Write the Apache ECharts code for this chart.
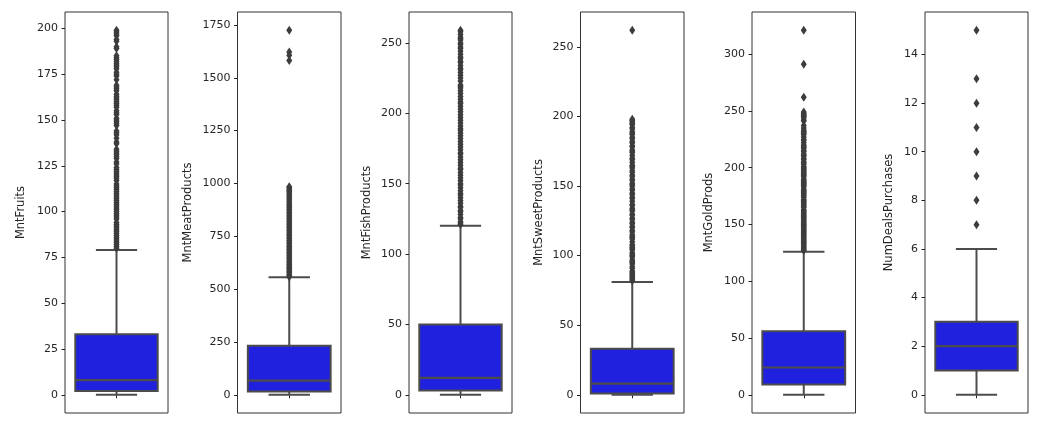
<!DOCTYPE html>
<html>
<head>
<meta charset="utf-8">
<script src="https://cdn.jsdelivr.net/npm/echarts@6/dist/echarts.min.js"></script>
<style>html,body{margin:0;padding:0;background:#fff;}#c{width:1042px;height:440px;}</style>
</head>
<body>
<div id="c"></div>
<script>
// ---- data ----
const categories = ['MntFruits','MntMeatProducts','MntFishProducts','MntSweetProducts','MntGoldProds','NumDealsPurchases'];

// box stats: [lowerWhisker, Q1, median, Q3, upperWhisker]
const fruitsBox = [0, 2, 8, 33, 79];
const meatBox = [0, 16, 67, 232, 556];
const fishBox = [0, 3, 12, 50, 120];
const sweetBox = [0, 1, 8, 33, 81];
const goldBox = [0, 9, 24, 56, 126];
const dealsBox = [0, 1, 2, 3, 6];

// outliers
const fruitsOut = [80,81,82,83,84,85,86,87,88,89,90,91,92,93,94,96,97,98,99,100,101,102,103,104,105,106,107,108,109,110,111,112,113,114,115,117,118,119,120,121,122,123,124,126,127,129,130,131,132,133,134,137,138,140,142,143,144,147,148,149,150,151,153,154,155,157,158,159,160,161,162,163,164,166,167,168,169,172,174,175,176,178,179,180,181,182,183,184,185,189,190,193,194,196,197,198,199];
const meatOut = [558,565,570,578,585,590,597,604,611,617,623,630,637,645,652,659,666,673,680,687,694,701,708,716,723,730,738,745,752,760,767,775,782,790,797,804,812,819,827,834,842,849,857,864,872,879,887,894,902,909,917,925,932,940,947,955,962,968,974,981,984,1582,1607,1622,1725];
const fishOut = [121,122,123,125,126,128,130,131,133,134,136,138,140,142,143,145,147,149,150,152,154,156,158,160,161,163,165,167,169,171,172,174,176,178,180,182,184,186,188,189,191,193,195,197,199,201,203,205,207,208,210,212,214,216,218,219,220,223,225,227,229,231,232,234,236,237,239,240,242,244,246,247,249,250,252,253,254,256,258,259];
const sweetOut = [82,83,84,85,86,87,88,89,91,92,94,95,96,97,99,100,101,102,104,105,106,107,108,110,112,113,114,115,117,118,120,121,123,124,126,127,129,130,132,133,134,136,137,139,141,142,144,145,147,148,150,151,152,154,155,157,158,160,161,163,164,165,167,169,170,172,174,175,176,178,179,181,182,184,185,187,188,189,191,192,194,195,196,197,198,262];
const goldOut = [127,128,129,130,131,132,133,134,135,136,137,138,139,140,141,142,143,144,145,146,147,148,149,150,151,152,153,154,155,156,157,158,159,160,161,162,163,165,166,167,168,169,170,171,172,174,175,176,177,178,179,180,181,183,184,185,186,187,188,189,190,192,193,194,195,196,197,198,199,200,201,203,204,205,207,208,210,211,212,214,215,217,218,219,220,222,224,225,227,229,230,231,232,233,235,237,241,242,244,245,246,247,248,249,262,291,321];
const dealsOut = [7,8,9,10,11,12,13,15];

// axis ranges and tick labels
const yMins = [-9.95, -86.25, -12.95, -13.1, -16.05, -0.75];
const yMaxs = [208.95, 1811.25, 271.95, 275.1, 337.05, 15.75];
const fruitsTicks = [0,25,50,75,100,125,150,175,200];
const meatTicks = [0,250,500,750,1000,1250,1500,1750];
const fishTicks = [0,50,100,150,200,250];
const sweetTicks = [0,50,100,150,200,250];
const goldTicks = [0,50,100,150,200,250,300];
const dealsTicks = [0,2,4,6,8,10,12,14];

const boxes = [fruitsBox, meatBox, fishBox, sweetBox, goldBox, dealsBox];
const outs = [fruitsOut, meatOut, fishOut, sweetOut, goldOut, dealsOut];
const ticks = [fruitsTicks, meatTicks, fishTicks, sweetTicks, goldTicks, dealsTicks];

// ---- layout / style ----
const lefts = [65, 237.5, 409, 580.5, 752, 925];
const widths = [103, 103.5, 103, 103.5, 103.5, 103];
const nameGaps = [38, 43, 36, 35.5, 36.5, 29.5];
const TOP = 12, HEIGHT = 401;
const BOX_FILL = '#2020df';
const LINE = '#4c4c4c';
const TXT = '#262626';
const FONT = 'DejaVu Sans';

const grid = [], xAxis = [], yAxis = [], series = [];
for (let i = 0; i < 6; i++) {
  grid.push({left: lefts[i], top: TOP, width: widths[i], height: HEIGHT, show: true,
    borderColor: '#333', borderWidth: 1, backgroundColor: 'transparent', containLabel: false});
  xAxis.push({gridIndex: i, type: 'category', data: [''], boundaryGap: true,
    axisLine: {show: false},
    axisTick: {show: true, alignWithLabel: true, length: 3.5, lineStyle: {color: '#222', width: 1}},
    axisLabel: {show: false}, splitLine: {show: false}});
  yAxis.push({gridIndex: i, type: 'value', min: yMins[i], max: yMaxs[i],
    name: categories[i], nameLocation: 'middle', nameRotate: 90, nameGap: nameGaps[i],
    nameTextStyle: {fontFamily: FONT, fontSize: 11.5, color: TXT},
    axisLine: {show: false},
    axisTick: {show: true, length: 3.5, customValues: ticks[i], lineStyle: {color: '#222', width: 1}},
    axisLabel: {show: true, customValues: ticks[i], margin: 7, fontFamily: FONT, fontSize: 11, color: TXT,
      formatter: function (v) { return String(v); }},
    splitLine: {show: false}});
  series.push({
    type: 'custom', xAxisIndex: i, yAxisIndex: i,
    data: [[0].concat(boxes[i])],
    encode: {x: 0, y: [1,2,3,4,5]},
    renderItem: function (params, api) {
      const x = api.value(0);
      const lo = api.coord([x, api.value(1)]);
      const q1 = api.coord([x, api.value(2)]);
      const md = api.coord([x, api.value(3)]);
      const q3 = api.coord([x, api.value(4)]);
      const hi = api.coord([x, api.value(5)]);
      const band = api.size([1, 0])[0];
      const bw = band * 0.8, cw = bw * 0.5;
      const cx = md[0];
      const ls = {stroke: LINE, lineWidth: 2};
      return {type: 'group', children: [
        {type: 'line', shape: {x1: cx, y1: lo[1], x2: cx, y2: q1[1]}, style: ls},
        {type: 'line', shape: {x1: cx, y1: q3[1], x2: cx, y2: hi[1]}, style: ls},
        {type: 'line', shape: {x1: cx - cw/2, y1: lo[1], x2: cx + cw/2, y2: lo[1]}, style: ls},
        {type: 'line', shape: {x1: cx - cw/2, y1: hi[1], x2: cx + cw/2, y2: hi[1]}, style: ls},
        {type: 'rect', shape: {x: cx - bw/2, y: q3[1], width: bw, height: q1[1] - q3[1]},
          style: {fill: BOX_FILL, stroke: LINE, lineWidth: 2}},
        {type: 'line', shape: {x1: cx - bw/2, y1: md[1], x2: cx + bw/2, y2: md[1]}, style: {stroke: LINE, lineWidth: 2.2}}
      ]};
    },
    z: 2, silent: true, animation: false
  });
  series.push({
    type: 'scatter', xAxisIndex: i, yAxisIndex: i,
    data: outs[i].map(v => [0, v]),
    symbol: 'diamond', symbolSize: [6, 9],
    itemStyle: {color: '#3d3d3d', opacity: 1},
    z: 3, silent: true, animation: false
  });
}

const chart = echarts.init(document.getElementById('c'), null, {renderer: 'canvas'});
chart.setOption({animation: false, backgroundColor: '#fff', grid, xAxis, yAxis, series});
</script>
</body>
</html>
